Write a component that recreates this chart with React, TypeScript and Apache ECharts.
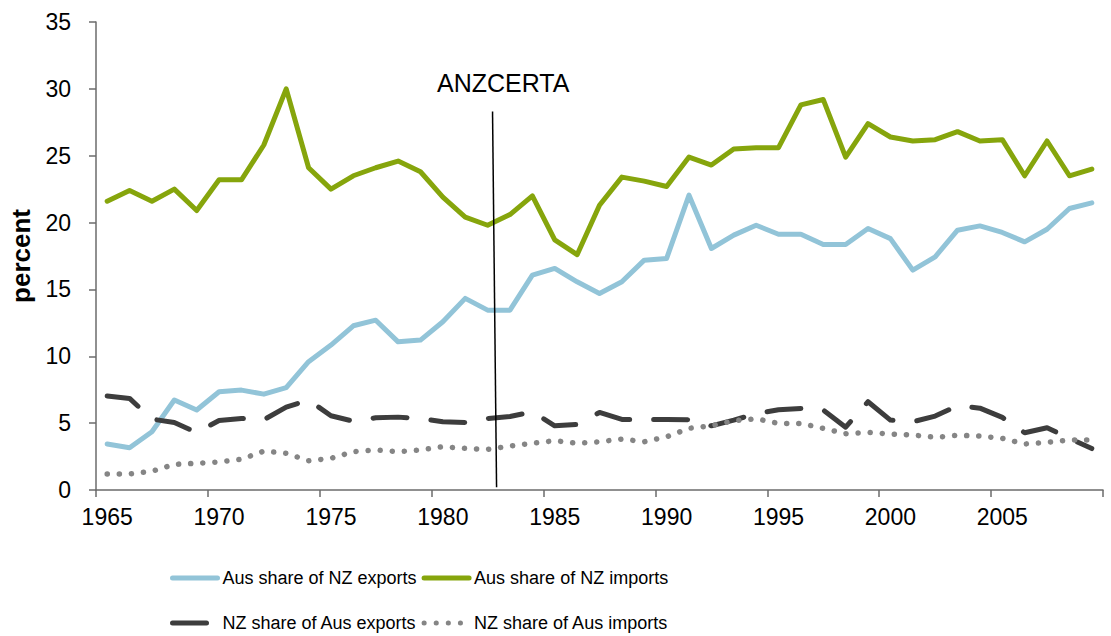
import React, { useEffect, useRef } from "react";
import * as echarts from "echarts";

const years = [
  "1965", "1966", "1967", "1968", "1969", "1970", "1971", "1972", "1973", "1974",
  "1975", "1976", "1977", "1978", "1979", "1980", "1981", "1982", "1983", "1984",
  "1985", "1986", "1987", "1988", "1989", "1990", "1991", "1992", "1993", "1994",
  "1995", "1996", "1997", "1998", "1999", "2000", "2001", "2002", "2003", "2004",
  "2005", "2006", "2007", "2008", "2009",
];

const ausShareNZExports = [
  3.44, 3.16, 4.36, 6.73, 5.98, 7.35, 7.47, 7.17, 7.65, 9.6,
  10.84, 12.28, 12.7, 11.08, 11.21, 12.58, 14.33, 13.45, 13.45, 16.07,
  16.57, 15.57, 14.7, 15.57, 17.19, 17.32, 22.05, 18.06, 19.06, 19.8,
  19.13, 19.13, 18.36, 18.36, 19.56, 18.8, 16.44, 17.44, 19.43, 19.75,
  19.26, 18.56, 19.5, 21.05, 21.47,
];

const ausShareNZImports = [
  21.6, 22.4, 21.6, 22.5, 20.9, 23.2, 23.2, 25.8, 30.0, 24.1,
  22.5, 23.5, 24.1, 24.6, 23.8, 21.9, 20.4, 19.8, 20.6, 22.0,
  18.7, 17.6, 21.3, 23.4, 23.1, 22.7, 24.9, 24.3, 25.5, 25.6,
  25.6, 28.8, 29.2, 24.9, 27.4, 26.4, 26.1, 26.2, 26.8, 26.1,
  26.2, 23.5, 26.1, 23.5, 24.0,
];

const nzShareAusExports = [
  7.03, 6.85, 5.3, 5.05, 4.3, 5.2, 5.35, 5.25, 6.2, 6.73,
  5.55, 5.15, 5.4, 5.45, 5.35, 5.1, 5.05, 5.35, 5.5, 5.85,
  4.8, 4.9, 5.8, 5.28, 5.28, 5.28, 5.25, 4.8, 5.23, 5.7,
  6.0, 6.1, 5.98, 4.7, 6.6, 5.23, 5.1, 5.53, 6.3, 6.12,
  5.43, 4.28, 4.66, 3.85, 3.1,
];

const nzShareAusImports = [
  1.2, 1.2, 1.4, 1.92, 2.0, 2.1, 2.3, 2.91, 2.74, 2.19,
  2.37, 2.87, 2.99, 2.87, 2.99, 3.24, 3.11, 3.04, 3.29, 3.49,
  3.69, 3.49, 3.61, 3.81, 3.61, 3.98, 4.61, 4.81, 5.18, 5.33,
  4.98, 4.98, 4.61, 4.21, 4.31, 4.19, 4.11, 3.94, 4.09, 4.04,
  3.86, 3.44, 3.56, 3.74, 3.74,
];

const seriesNames = [
  "Aus share of NZ exports",
  "Aus share of NZ imports",
  "NZ share of Aus exports",
  "NZ share of Aus imports",
];

// ANZCERTA marker (late 1982 / start of 1983), slightly slanted as in the source
const anzcertaLabel = "ANZCERTA";
const anzcertaTop = [1982.72, 28.3];
const anzcertaBottom = [1982.9, 0.2];

const FONT = "'Liberation Sans', Arial, sans-serif";

export default function App() {
  const ref = useRef<HTMLDivElement>(null);

  useEffect(() => {
    document.body.style.margin = "0";
    if (!ref.current) return;
    const chart = echarts.init(ref.current, undefined, { renderer: "svg" });

    const axisLineColor = "#6b6b6b";
    const legendBase = {
      left: 170,
      padding: 0,
      itemWidth: 45,
      itemHeight: 14,
      itemGap: 5,
      itemStyle: { opacity: 0, borderWidth: 0 },
      lineStyle: { width: 5 },
      textStyle: { color: "#000", fontSize: 18, fontFamily: FONT },
    };

    chart.setOption({
      animation: false,
      backgroundColor: "#ffffff",
      textStyle: { fontFamily: FONT },
      grid: { left: 95, right: 8, top: 22, bottom: 146, containLabel: false },
      xAxis: [
        {
          type: "category",
          data: years,
          boundaryGap: true,
          axisLine: { show: true, lineStyle: { color: axisLineColor, width: 1.5 } },
          axisTick: {
            show: true,
            interval: 4,
            alignWithLabel: false,
            length: 7,
            lineStyle: { color: axisLineColor, width: 1.5 },
          },
          axisLabel: {
            interval: 4,
            color: "#000",
            fontSize: 23,
            fontFamily: FONT,
            margin: 15,
          },
          splitLine: { show: false },
        },
        {
          // continuous time axis (hidden) for the ANZCERTA annotation
          type: "value",
          min: 1965,
          max: 2010,
          show: false,
          position: "bottom",
        },
      ],
      yAxis: {
        type: "value",
        min: 0,
        max: 35,
        interval: 5,
        name: "percent",
        nameLocation: "middle",
        nameRotate: 90,
        nameGap: 62,
        nameTextStyle: {
          color: "#000",
          fontSize: 26,
          fontWeight: "bold",
          fontFamily: FONT,
        },
        axisLine: { show: true, lineStyle: { color: axisLineColor, width: 1.5 } },
        axisTick: { show: true, length: 7, lineStyle: { color: axisLineColor, width: 1.5 } },
        axisLabel: { color: "#000", fontSize: 23, fontFamily: FONT, margin: 25 },
        splitLine: { show: false },
      },
      legend: [
        { ...legendBase, data: [seriesNames[0], seriesNames[1]], top: 569 },
        { ...legendBase, data: [seriesNames[2], seriesNames[3]], top: 614 },
      ],
      graphic: [
        {
          type: "text",
          left: 437,
          top: 70,
          style: {
            text: anzcertaLabel,
            fill: "#000",
            fontSize: 25,
            fontFamily: FONT,
          },
        },
      ],
      series: [
        {
          name: seriesNames[0],
          type: "line",
          data: ausShareNZExports,
          symbol: "none",
          color: "#92C4D8",
          lineStyle: { width: 5, color: "#92C4D8", cap: "round", join: "round" },
        },
        {
          name: seriesNames[1],
          type: "line",
          data: ausShareNZImports,
          symbol: "none",
          color: "#86A50C",
          lineStyle: { width: 5, color: "#86A50C", cap: "round", join: "round" },
        },
        {
          name: seriesNames[2],
          type: "line",
          data: nzShareAusExports,
          symbol: "none",
          color: "#3d3d3d",
          lineStyle: { width: 5, color: "#3d3d3d", type: [34, 24], cap: "round", join: "round" },
        },
        {
          name: seriesNames[3],
          type: "line",
          data: nzShareAusImports,
          symbol: "none",
          color: "#858585",
          lineStyle: { width: 5.5, color: "#858585", type: [0.1, 12], cap: "round", join: "round" },
        },
        {
          name: anzcertaLabel,
          type: "line",
          xAxisIndex: 1,
          data: [],
          symbol: "none",
          markLine: {
            silent: true,
            symbol: ["none", "none"],
            label: { show: false },
            lineStyle: { color: "#000", width: 1.5, type: "solid" },
            data: [[{ coord: anzcertaTop }, { coord: anzcertaBottom }]],
          },
        },
      ],
    });

    return () => chart.dispose();
  }, []);

  return <div ref={ref} style={{ width: 1111, height: 636 }} />;
}
